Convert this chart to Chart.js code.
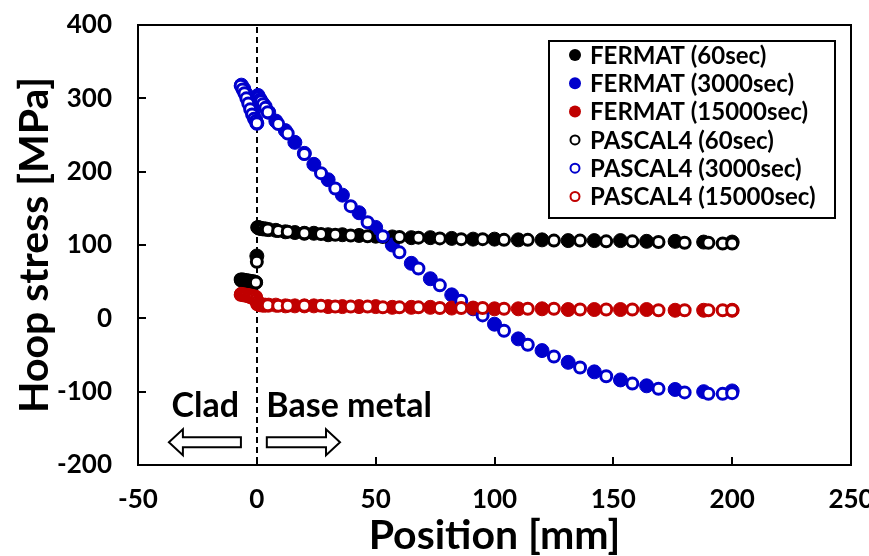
<!DOCTYPE html>
<html>
<head>
<meta charset="utf-8">
<script src="https://cdn.jsdelivr.net/npm/chart.js@4.4.1/dist/chart.umd.min.js"></script>
<style>
  html, body { margin: 0; padding: 0; background: #fff; }
</style>
</head>
<body>
<canvas id="hoopChart" width="869" height="556"></canvas>
<script>
// positions [mm], clad is x < 0
const fermatPos = [-6.5, -5.5, -4.5, -3.5, -2.5, -1.5, -0.5, 0,
  0.5, 1, 1.5, 2.5, 3.5, 5, 8, 12, 16, 20,
  24, 30, 36, 43, 50, 57, 65, 73, 82, 91,
  100, 110, 120, 131, 142, 153, 164, 176, 188, 200];
const pascalPos = [-6.8, -6, -5.2, -4.4, -3.6, -2.8, -2, -1.2, -0.4, 0,
  0.2, 0.7, 1.2, 1.8, 2.6, 3.6, 4.6, 9, 13, 20,
  27, 33, 39.5, 46.6, 53, 60, 68, 77, 86, 95,
  104, 114, 125, 136, 147, 158, 169, 180, 190, 196,
  200];

// hoop stress [MPa]
const fermat60 = [52, 52, 51, 51, 50, 50, 49, 85,
  124, 123, 123, 122, 122, 121, 120, 118, 117, 116,
  116, 114, 114, 113, 112, 111, 110, 110, 109, 108,
  108, 107, 107, 106, 106, 106, 105, 105, 104, 104];
const fermat3000 = [318, 313, 306, 298, 289, 280, 271, 266,
  304, 300, 298, 293, 289, 281, 269, 256, 240, 225,
  210, 189, 168, 144, 124, 100, 75, 54, 32, 13,
  -8, -28, -44, -60, -73, -84, -92, -97, -100, -99];
const fermat15000 = [33, 33, 32, 32, 31, 30, 29, 24,
  20, 19, 19, 18, 18, 18, 18, 17, 17, 17,
  17, 16, 16, 16, 16, 15, 15, 15, 14, 14,
  13, 13, 13, 12, 12, 12, 12, 11, 11, 11];
const pascal60 = [53, 53, 52, 52, 51, 51, 50, 50, 49, 77,
  124, 123, 123, 122, 122, 121, 121, 119, 118, 116,
  115, 114, 113, 112, 111, 111, 110, 109, 108, 108,
  107, 107, 106, 106, 105, 105, 104, 103, 103, 102,
  102];
const pascal3000 = [317, 312, 307, 300, 293, 285, 278, 272, 269, 266,
  303, 301, 298, 296, 292, 287, 281, 265, 252, 224,
  198, 177, 153, 131, 112, 90, 68, 45, 24, 4,
  -17, -36, -52, -67, -79, -89, -96, -101, -103, -103,
  -102];
const pascal15000 = [32, 32, 31, 31, 30, 29, 28, 27, 25, 22,
  19, 19, 18, 18, 18, 18, 18, 17, 17, 17,
  17, 16, 16, 16, 15, 15, 15, 14, 14, 14,
  13, 13, 13, 12, 12, 12, 11, 11, 11, 11,
  11];

const seriesLabels = ['FERMAT (60sec)', 'FERMAT (3000sec)', 'FERMAT (15000sec)',
  'PASCAL4 (60sec)', 'PASCAL4 (3000sec)', 'PASCAL4 (15000sec)'];
const xTicks = [-50, 0, 50, 100, 150, 200, 250];
const yTicks = [-200, -100, 0, 100, 200, 300, 400];

const BLACK = '#000000', BLUE = '#0000cc', RED = '#c00000';
const FONT = 'Lato';

function pts(xs, ys) {
  return xs.map((x, i) => ({x: x, y: ys[i]}));
}

function filled(i, xs, ys, color) {
  return {label: seriesLabels[i], data: pts(xs, ys), order: 5 - i,
    pointRadius: 7, borderWidth: 1, backgroundColor: color, borderColor: color, hollow: false};
}
function hollow(i, xs, ys, color) {
  return {label: seriesLabels[i], data: pts(xs, ys), order: 5 - i,
    pointRadius: 5.5, borderWidth: 3, backgroundColor: '#ffffff', borderColor: color, hollow: true};
}

function blockArrow(ctx, tail, tip, cy) {
  const dir = tip > tail ? 1 : -1;
  const hb = tip - dir * 14;
  ctx.beginPath();
  ctx.moveTo(tail, cy - 5);
  ctx.lineTo(hb, cy - 5);
  ctx.lineTo(hb, cy - 13);
  ctx.lineTo(tip, cy);
  ctx.lineTo(hb, cy + 13);
  ctx.lineTo(hb, cy + 5);
  ctx.lineTo(tail, cy + 5);
  ctx.closePath();
  ctx.fillStyle = '#fff';
  ctx.fill();
  ctx.lineWidth = 2;
  ctx.strokeStyle = '#000';
  ctx.stroke();
}

const decorations = {
  id: 'decorations',
  beforeDatasetsDraw(chart) {
    const {ctx, chartArea: a, scales: {x, y}} = chart;
    ctx.save();
    // clad / base metal interface
    const x0 = Math.round(x.getPixelForValue(0));
    ctx.strokeStyle = '#000';
    ctx.lineWidth = 2;
    ctx.setLineDash([6, 4]);
    ctx.beginPath();
    ctx.moveTo(x0, a.top + 2);
    ctx.lineTo(x0, a.bottom);
    ctx.stroke();
    ctx.setLineDash([]);

    ctx.fillStyle = '#000';
    ctx.font = 'bold 34px ' + FONT;
    ctx.textBaseline = 'alphabetic';
    ctx.textAlign = 'right';
    ctx.fillText('Clad', x.getPixelForValue(-7.5), y.getPixelForValue(-135));
    ctx.textAlign = 'left';
    ctx.fillText('Base metal', x.getPixelForValue(4), y.getPixelForValue(-135));
    blockArrow(ctx, x.getPixelForValue(-6.7), x.getPixelForValue(-37), y.getPixelForValue(-169));
    blockArrow(ctx, x.getPixelForValue(4.2), x.getPixelForValue(35), y.getPixelForValue(-169));
    ctx.restore();
  },
  afterDatasetsDraw(chart) {
    const {ctx, chartArea: a, scales: {x, y}} = chart;
    ctx.save();
    ctx.strokeStyle = '#000';
    ctx.lineWidth = 2;
    ctx.strokeRect(a.left, a.top, a.right - a.left, a.bottom - a.top);
    // inward tick marks
    ctx.beginPath();
    yTicks.forEach(v => {
      const py = Math.round(y.getPixelForValue(v));
      ctx.moveTo(a.left, py);
      ctx.lineTo(a.left + 8, py);
    });
    xTicks.forEach(v => {
      const px = Math.round(x.getPixelForValue(v));
      ctx.moveTo(px, a.bottom);
      ctx.lineTo(px, a.bottom - 8);
    });
    ctx.stroke();

    // legend box
    const w = 286, h = 177;
    const left = a.right - 16 - w, top = a.top + 16;
    ctx.fillStyle = '#fff';
    ctx.fillRect(left, top, w, h);
    ctx.strokeRect(left, top, w, h);
    ctx.font = 'bold 24px ' + FONT;
    ctx.textBaseline = 'middle';
    ctx.textAlign = 'left';
    chart.data.datasets.forEach((ds, i) => {
      const cy = top + 14 + i * 28.3;
      const cx = left + 26;
      ctx.beginPath();
      if (ds.hollow) {
        ctx.arc(cx, cy, 4.5, 0, Math.PI * 2);
        ctx.fillStyle = '#fff';
        ctx.fill();
        ctx.lineWidth = 2;
        ctx.strokeStyle = ds.borderColor;
        ctx.stroke();
      } else {
        ctx.arc(cx, cy, 6, 0, Math.PI * 2);
        ctx.fillStyle = ds.backgroundColor;
        ctx.fill();
      }
      ctx.fillStyle = '#000';
      ctx.fillText(ds.label, left + 41, cy + 1);
    });
    ctx.restore();
  }
};

const tickFont = {family: FONT, weight: 'bold', size: 26};
const titleFont = {family: FONT, weight: 'bold', size: 41, lineHeight: 1};

new Chart(document.getElementById('hoopChart'), {
  type: 'scatter',
  data: {
    datasets: [
      filled(0, fermatPos, fermat60, BLACK),
      filled(1, fermatPos, fermat3000, BLUE),
      filled(2, fermatPos, fermat15000, RED),
      hollow(3, pascalPos, pascal60, BLACK),
      hollow(4, pascalPos, pascal3000, BLUE),
      hollow(5, pascalPos, pascal15000, RED)
    ]
  },
  options: {
    responsive: false,
    animation: false,
    events: [],
    layout: {padding: {top: 25, right: 18, left: 0, bottom: 0}},
    plugins: {legend: {display: false}, tooltip: {enabled: false}},
    scales: {
      x: {
        type: 'linear', min: -50, max: 250,
        afterBuildTicks(s) { s.ticks = xTicks.map(v => ({value: v})); },
        afterFit(s) { s.height = 91; s.paddingLeft = 0; s.paddingRight = 0; },
        grid: {display: false, drawTicks: false},
        border: {display: false},
        ticks: {padding: 19, maxRotation: 0, autoSkip: false, color: '#000', font: tickFont},
        title: {display: true, text: 'Position [mm]', color: '#000', font: titleFont, padding: {top: 0, bottom: 0}}
      },
      y: {
        type: 'linear', min: -200, max: 400,
        afterBuildTicks(s) { s.ticks = yTicks.map(v => ({value: v})); },
        afterFit(s) { s.width = 138; s.paddingTop = 0; s.paddingBottom = 0; },
        grid: {display: false, drawTicks: false},
        border: {display: false},
        ticks: {padding: 26, color: '#000', font: tickFont},
        title: {display: true, text: 'Hoop stress [MPa]', color: '#000', font: titleFont, padding: {top: 14, bottom: 0}}
      }
    }
  },
  plugins: [decorations]
});
</script>
</body>
</html>
